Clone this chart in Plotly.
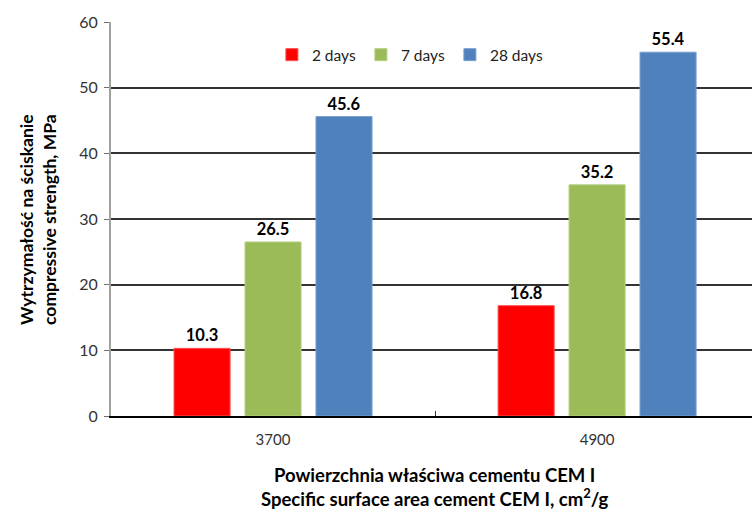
import plotly.graph_objects as go

# Compressive strength of CEM I cement by specific surface area
categories = ["3700", "4900"]
series_names = ["2 days", "7 days", "28 days"]
strength_2d = [10.3, 16.8]
strength_7d = [26.5, 35.2]
strength_28d = [45.6, 55.4]
colors = ["#FF0000", "#9BBB59", "#4F81BD"]
edge_colors = ["#FF5050", "#B5CF7F", "#7BA0D0"]

FONT = "Lato"

fig = go.Figure()
for name, vals, col, edge in zip(series_names,
                                 [strength_2d, strength_7d, strength_28d],
                                 colors, edge_colors):
    fig.add_trace(go.Bar(
        x=categories, y=vals, name=name,
        marker=dict(color=col, line=dict(color=edge, width=1)),
        text=[f"<b>{v:.1f}</b>" for v in vals],
        textposition="outside",
        textfont=dict(family=FONT, size=16.5, color="#000000"),
        cliponaxis=False,
    ))

fig.update_layout(
    width=752, height=510,
    margin=dict(l=111, r=0, t=22, b=94),
    paper_bgcolor="white", plot_bgcolor="white",
    barmode="group", bargap=0.343, bargroupgap=0.21,
    font=dict(family=FONT, size=15, color="#333333"),
    showlegend=True,
    legend=dict(orientation="h", x=0.251, y=0.916, xanchor="left", yanchor="middle",
                font=dict(family=FONT, size=15.5, color="#222222"),
                bgcolor="rgba(0,0,0,0)"),
    xaxis=dict(
        type="category", range=[-0.5, 1.478],
        showline=True, linecolor="#000000", linewidth=1.5,
        ticks="inside", tickson="boundaries", ticklen=5, tickcolor="#333333",
        tickfont=dict(family=FONT, size=15, color="#333333"),
        ticklabelstandoff=9,
        showgrid=False,
    ),
    yaxis=dict(
        range=[0, 60], dtick=10,
        showline=True, linecolor="#A0A0A0", linewidth=2,
        ticks="outside", ticklen=5, tickcolor="#707070",
        tickfont=dict(family=FONT, size=16, color="#333333"),
        ticklabelstandoff=3,
        showgrid=True, gridcolor="#333333", gridwidth=1.5,
        zeroline=False,
    ),
)

# Axis titles
fig.add_annotation(
    text="<b>Powierzchnia właściwa cementu CEM I<br>Specific surface area cement CEM I, cm<sup>2</sup>/g</b>",
    xref="paper", yref="paper", x=0.505, y=-0.117, xanchor="center", yanchor="top",
    showarrow=False, font=dict(family=FONT, size=18.5, color="#000000"),
)
fig.add_annotation(
    text="<b>Wytrzymałość na ściskanie<br>compressive strength, MPa</b>",
    xref="paper", yref="paper", x=-0.114, y=0.5, xanchor="center", yanchor="middle",
    textangle=-90, showarrow=False, font=dict(family=FONT, size=17.5, color="#000000"),
)

fig.write_html("out.html")
